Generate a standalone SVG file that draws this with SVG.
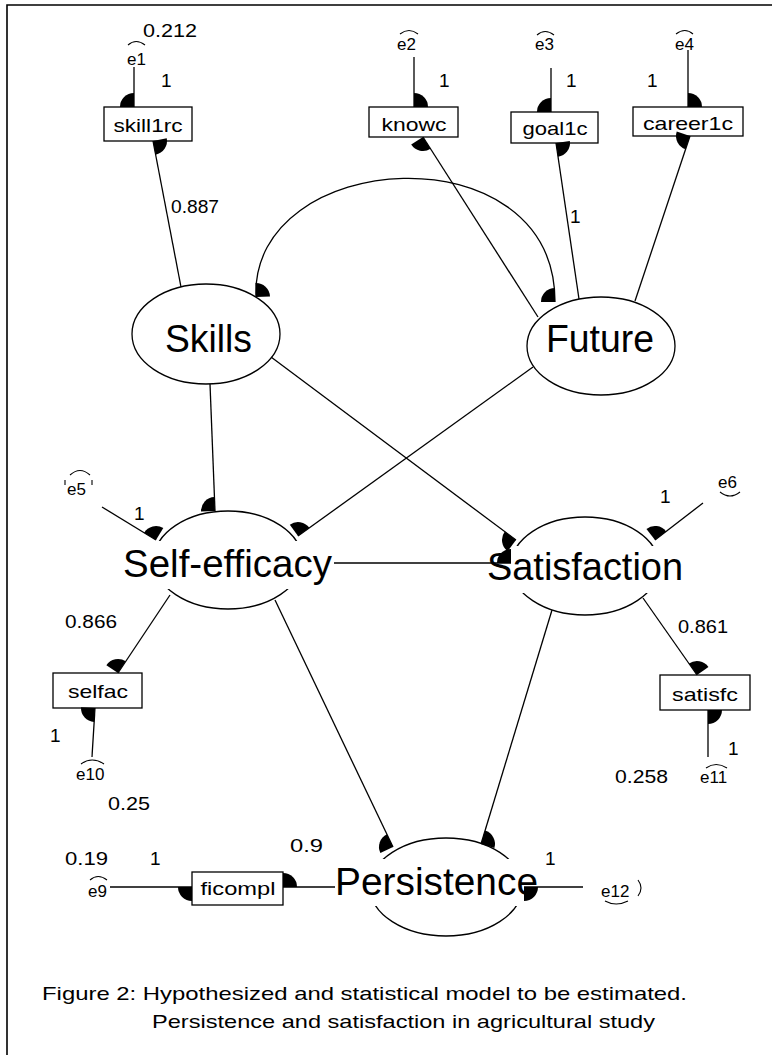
<svg xmlns="http://www.w3.org/2000/svg" width="772" height="1055" viewBox="0 0 772 1055">
<style>
.ln{stroke:#000;stroke-width:1.3;fill:none}
.box{fill:#fff;stroke:#000;stroke-width:1.3}
.ell{fill:none;stroke:#000;stroke-width:1.3}
.t{font-family:"Liberation Sans",Arial,sans-serif;font-size:19px;fill:#000}
.te{font-family:"Liberation Sans",Arial,sans-serif;font-size:17px;fill:#000}
.big{font-family:"Liberation Sans",Arial,sans-serif;font-size:38px;fill:#000}
.bg{fill:#fff}
.arc{fill:none;stroke:#000;stroke-width:1.1}
</style>
<defs>
<marker id="hR" viewBox="-16 -16 32 32" markerWidth="32" markerHeight="32" refX="0" refY="0" orient="auto" markerUnits="userSpaceOnUse" overflow="visible"><path d="M0,0 L-14,0 A14,14 0 0 0 0,14 Z" fill="#000"/></marker>
<marker id="hL" viewBox="-16 -16 32 32" markerWidth="32" markerHeight="32" refX="0" refY="0" orient="auto" markerUnits="userSpaceOnUse" overflow="visible"><path d="M0,0 L-14,0 A14,14 0 0 1 0,-14 Z" fill="#000"/></marker>
<marker id="hLs" viewBox="-16 -16 32 32" markerWidth="32" markerHeight="32" refX="0" refY="0" orient="auto-start-reverse" markerUnits="userSpaceOnUse" overflow="visible"><path d="M0,0 L-14,0 A14,14 0 0 1 0,-14 Z" fill="#000"/></marker>
</defs>
<rect width="772" height="1055" fill="#fff"/>
<g id="frame">
<path class="ln" d="M7,1055 L7,5 L772,5" style="stroke-width:1.6"/>
</g>

<g id="skill1rc"><rect class="box" x="104" y="107" width="88" height="34"/><text class="t" x="148" y="132" text-anchor="middle" textLength="69" lengthAdjust="spacingAndGlyphs">skill1rc</text></g>
<g id="knowc"><rect class="box" x="369" y="107" width="89" height="30"/><text class="t" x="414" y="131" text-anchor="middle" textLength="65" lengthAdjust="spacingAndGlyphs">knowc</text></g>
<g id="goal1c"><rect class="box" x="511" y="112" width="87" height="31"/><text class="t" x="555" y="135" text-anchor="middle" textLength="65" lengthAdjust="spacingAndGlyphs">goal1c</text></g>
<g id="career1c"><rect class="box" x="633" y="107" width="110" height="29"/><text class="t" x="688" y="130" text-anchor="middle" textLength="90" lengthAdjust="spacingAndGlyphs">career1c</text></g>
<g id="selfac"><rect class="box" x="53" y="673" width="89" height="35"/><text class="t" x="98" y="698" text-anchor="middle" textLength="60" lengthAdjust="spacingAndGlyphs">selfac</text></g>
<g id="satisfc"><rect class="box" x="660" y="675" width="90" height="35"/><text class="t" x="705" y="701" text-anchor="middle" textLength="66" lengthAdjust="spacingAndGlyphs">satisfc</text></g>
<g id="ficompl"><rect class="box" x="192" y="872" width="91" height="33"/><text class="t" x="238" y="895" text-anchor="middle" textLength="75" lengthAdjust="spacingAndGlyphs">ficompl</text></g>

<g id="Skills"><ellipse class="ell" cx="206" cy="334" rx="74" ry="50"/><text class="big" x="165" y="352" textLength="87" lengthAdjust="spacingAndGlyphs">Skills</text></g>
<g id="Future"><ellipse class="ell" cx="601" cy="346" rx="74" ry="49"/><text class="big" x="546" y="352" textLength="108" lengthAdjust="spacingAndGlyphs">Future</text></g>
<g id="Self-efficacy"><ellipse class="ell" cx="228" cy="560" rx="74" ry="49"/><rect class="bg" x="121" y="541" width="213" height="48"/><text class="big" x="123" y="577" textLength="209" lengthAdjust="spacingAndGlyphs">Self-efficacy</text></g>
<g id="Satisfaction"><ellipse class="ell" cx="585" cy="566" rx="74" ry="49"/><rect class="bg" x="485" y="546" width="200" height="47"/><text class="big" x="487" y="580" textLength="196" lengthAdjust="spacingAndGlyphs">Satisfaction</text></g>
<g id="Persistence"><ellipse class="ell" cx="446" cy="887" rx="76" ry="49"/><rect class="bg" x="333" y="859" width="207" height="47"/><text class="big" x="335" y="895" textLength="203" lengthAdjust="spacingAndGlyphs">Persistence</text></g>

<g id="e1"><path class="arc" d="M128,45 Q136,38 145,45"/><text class="te" x="127" y="65">e1</text></g>
<g id="e2"><path class="arc" d="M400,34 Q409,27 418,34"/><text class="te" x="397" y="50">e2</text></g>
<g id="e3"><path class="arc" d="M537,35 Q545,28 554,35"/><text class="te" x="535" y="50">e3</text></g>
<g id="e4"><path class="arc" d="M676,34 Q685,27 693,34"/><text class="te" x="675" y="50">e4</text></g>
<g id="e5"><path class="arc" d="M70,475 Q80,466 90,475"/><path class="arc" d="M65,480 L65,485 M92,480 L92,485"/><text class="te" x="67" y="495">e5</text></g>
<g id="e6"><path class="arc" d="M720,492 Q730,500 740,492"/><text class="te" x="718" y="488">e6</text></g>
<g id="e10"><path class="arc" d="M81,764 Q92,756 104,764"/><text class="te" x="76" y="780">e10</text></g>
<g id="e11"><path class="arc" d="M706,768 Q716,761 727,768"/><text class="te" x="700" y="783">e11</text></g>
<g id="e9"><path class="arc" d="M90,880 Q98,873 107,880"/><text class="te" x="88" y="897">e9</text></g>
<g id="e12"><path class="arc" d="M605,901 Q616,907 628,901 M638,880 Q644,888 638,896"/><text class="te" x="601" y="897">e12</text></g>

<g id="connectors">
<path class="ln" d="M134,67 L134,107" marker-end="url(#hR)"/>
<path class="ln" d="M181,287 L153,141" marker-end="url(#hR)"/>
<path class="ln" d="M414,57 L414,107" marker-end="url(#hL)"/>
<path class="ln" d="M538,317 L423,137" marker-end="url(#hL)"/>
<path class="ln" d="M551,68 L551,112" marker-end="url(#hR)"/>
<path class="ln" d="M579,299 L556,143" marker-end="url(#hR)"/>
<path class="ln" d="M688,50 L688,107" marker-end="url(#hL)"/>
<path class="ln" d="M635,301 L690,136" marker-end="url(#hL)"/>
<path class="ln" d="M256,297 C250,148 555,128 555,302" marker-start="url(#hLs)" marker-end="url(#hR)"/>
<path class="ln" d="M210,384 L215,511" marker-end="url(#hR)"/>
<path class="ln" d="M533,367 L298,536" marker-end="url(#hR)"/>
<path class="ln" d="M271,357 L516,540" marker-end="url(#hR)"/>
<path class="ln" d="M102,507 L156,540" marker-end="url(#hL)"/>
<path class="ln" d="M703,503 L655,540" marker-end="url(#hR)"/>
<path class="ln" d="M334,563 L511,563" marker-end="url(#hL)"/>
<path class="ln" d="M170,595 L118,673" marker-end="url(#hR)"/>
<path class="ln" d="M92,757 L95,708" marker-end="url(#hL)"/>
<path class="ln" d="M275,600 L393,847" marker-end="url(#hR)"/>
<path class="ln" d="M552,610 L481,844" marker-end="url(#hL)"/>
<path class="ln" d="M335,887 L283,887" marker-end="url(#hR)"/>
<path class="ln" d="M110,887 L192,887" marker-end="url(#hR)"/>
<path class="ln" d="M583,887 L524,887" marker-end="url(#hL)"/>
<path class="ln" d="M643,598 L697,675" marker-end="url(#hL)"/>
<path class="ln" d="M708,757 L708,710" marker-end="url(#hR)"/>
</g>

<g id="labels">
<text class="t" x="143" y="37" textLength="54" lengthAdjust="spacingAndGlyphs">0.212</text>
<text class="t" x="161" y="87">1</text>
<text class="t" x="439" y="87">1</text>
<text class="t" x="566" y="87">1</text>
<text class="t" x="647" y="87">1</text>
<text class="t" x="171" y="213" textLength="48" lengthAdjust="spacingAndGlyphs">0.887</text>
<text class="t" x="570" y="223">1</text>
<text class="t" x="134" y="520">1</text>
<text class="t" x="660" y="503">1</text>
<text class="t" x="65" y="628" textLength="52" lengthAdjust="spacingAndGlyphs">0.866</text>
<text class="t" x="678" y="633" textLength="50" lengthAdjust="spacingAndGlyphs">0.861</text>
<text class="t" x="50" y="742">1</text>
<text class="t" x="728" y="755">1</text>
<text class="t" x="108" y="810" textLength="42" lengthAdjust="spacingAndGlyphs">0.25</text>
<text class="t" x="615" y="783" textLength="53" lengthAdjust="spacingAndGlyphs">0.258</text>
<text class="t" x="65" y="865" textLength="43" lengthAdjust="spacingAndGlyphs">0.19</text>
<text class="t" x="150" y="865">1</text>
<text class="t" x="290" y="852" textLength="33" lengthAdjust="spacingAndGlyphs">0.9</text>
<text class="t" x="545" y="865">1</text>
</g>

<g id="caption">
<text class="t" x="42" y="1000" textLength="645" lengthAdjust="spacingAndGlyphs">Figure 2: Hypothesized and statistical model to be estimated.</text>
<text class="t" x="152" y="1028" textLength="503" lengthAdjust="spacingAndGlyphs">Persistence and satisfaction in agricultural study</text>
</g>
</svg>
